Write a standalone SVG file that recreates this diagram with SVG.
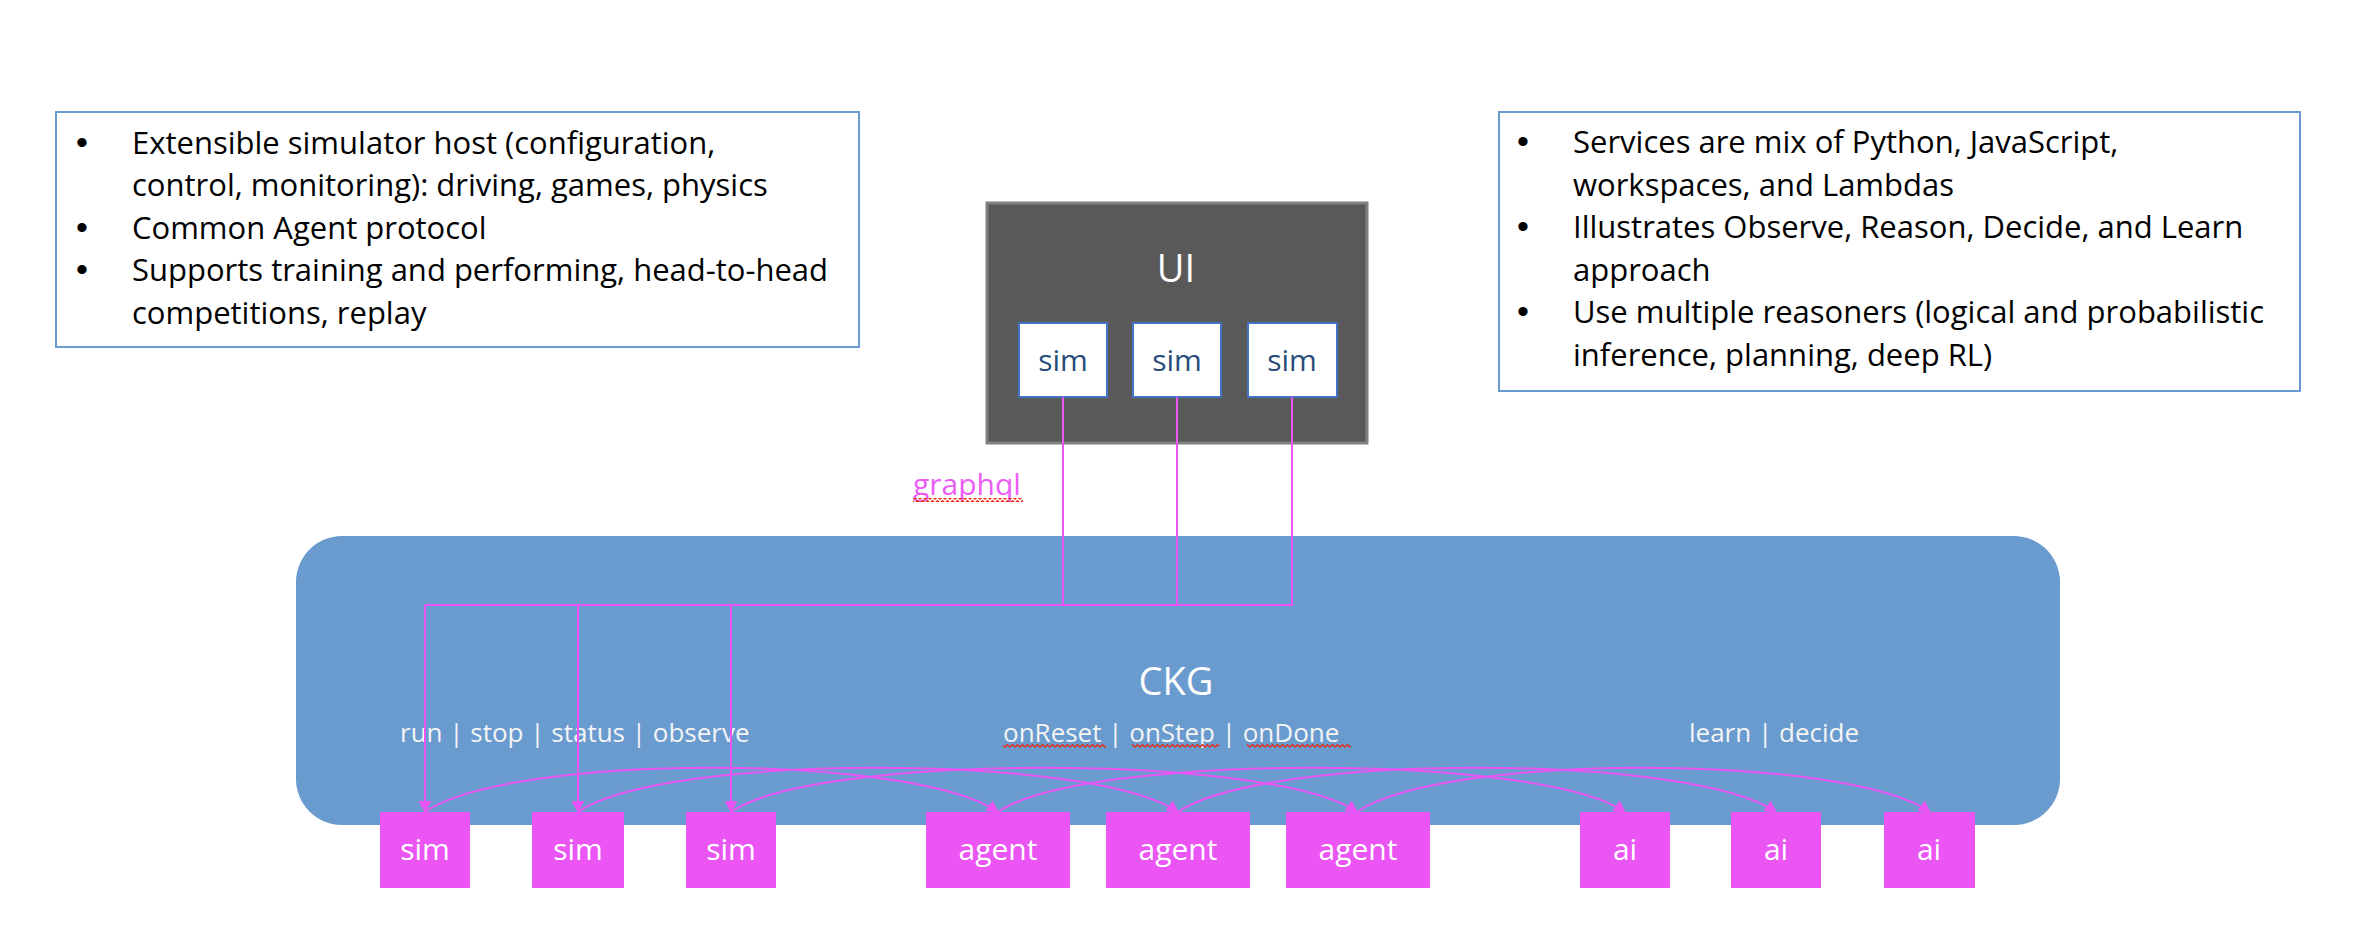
<svg xmlns="http://www.w3.org/2000/svg" width="2372" height="950" viewBox="0 0 2372 950">
<style>
  .box{fill:#ffffff;stroke:#6A9BD0;stroke-width:2}
  .bt{font-family:"Open Sans","Liberation Sans",sans-serif;font-size:31px;fill:#000000}
  .bu{font-family:"Liberation Sans",Arial,sans-serif;font-size:34px;fill:#000000}
  .conn{fill:none;stroke:#EA55F4;stroke-width:2}
  .node{fill:#EA55F4}
  .nt{font-family:"Open Sans","Liberation Sans",sans-serif;font-size:30px;fill:#ffffff;text-anchor:middle}
  .lbl{font-family:"Open Sans","Liberation Sans",sans-serif;font-size:26px;fill:#F4F4F4}
  .uisim{fill:#ffffff;stroke:#4472C4;stroke-width:2}
  .uist{font-family:"Open Sans","Liberation Sans",sans-serif;font-size:30px;fill:#294C7A;text-anchor:middle}
</style>
<defs>
  <marker id="arr" viewBox="0 0 12 13" refX="11" refY="6.5" markerWidth="12" markerHeight="13" markerUnits="userSpaceOnUse" orient="auto">
    <path d="M0,0 L12,6.5 L0,13 z" fill="#EA55F4"/>
  </marker>
  <pattern id="wavy" x="0" y="0" width="5" height="4" patternUnits="userSpaceOnUse">
    <path d="M0,3.4 L2.5,0.6 L5,3.4" fill="none" stroke="#E2301C" stroke-width="1.4"/>
  </pattern>
</defs>
<rect width="2372" height="950" fill="#ffffff"/>

<g id="left-notes">
  <rect class="box" x="56" y="112" width="803" height="235"/>
  <text class="bu" x="76" y="154">•</text>
  <text class="bt" x="132" y="154">Extensible simulator host (configuration,</text>
  <text class="bt" x="132" y="196">control, monitoring): driving, games, physics</text>
  <text class="bu" x="76" y="239">•</text>
  <text class="bt" x="132" y="239">Common Agent protocol</text>
  <text class="bu" x="76" y="281">•</text>
  <text class="bt" x="132" y="281">Supports training and performing, head-to-head</text>
  <text class="bt" x="132" y="324">competitions, replay</text>
</g>

<g id="right-notes">
  <rect class="box" x="1499" y="112" width="801" height="279"/>
  <text class="bu" x="1517" y="153">•</text>
  <text class="bt" x="1573" y="153">Services are mix of Python, JavaScript,</text>
  <text class="bt" x="1573" y="196">workspaces, and Lambdas</text>
  <text class="bu" x="1517" y="238">•</text>
  <text class="bt" x="1573" y="238">Illustrates Observe, Reason, Decide, and Learn</text>
  <text class="bt" x="1573" y="281">approach</text>
  <text class="bu" x="1517" y="323">•</text>
  <text class="bt" x="1573" y="323">Use multiple reasoners (logical and probabilistic</text>
  <text class="bt" x="1573" y="366">inference, planning, deep RL)</text>
</g>

<g id="ckg">
  <rect x="296" y="536" width="1764" height="289" rx="46" ry="46" fill="#699BCF"/>
  <text x="1176" y="695" font-family="Open Sans, Liberation Sans, sans-serif" font-size="38" fill="#ffffff" text-anchor="middle">CKG</text>
  <text class="lbl" x="400" y="742">run | stop | status | observe</text>
  <text class="lbl" x="1003" y="742">onReset | onStep | onDone</text>
  <rect x="1003" y="744" width="103" height="4" fill="url(#wavy)"/>
  <rect x="1132" y="744" width="87" height="4" fill="url(#wavy)"/>
  <rect x="1247" y="744" width="104" height="4" fill="url(#wavy)"/>
  <text class="lbl" x="1689" y="742">learn | decide</text>
</g>

<g id="ui">
  <rect x="987" y="203" width="380" height="240" fill="#595959" stroke="#808080" stroke-width="3"/>
  <text x="1176" y="282" font-family="Open Sans, Liberation Sans, sans-serif" font-size="38" fill="#ffffff" text-anchor="middle">UI</text>
  <g id="ui-sim-1"><rect class="uisim" x="1019" y="323" width="88" height="74"/><text class="uist" x="1063" y="371">sim</text></g>
  <g id="ui-sim-2"><rect class="uisim" x="1133" y="323" width="88" height="74"/><text class="uist" x="1177" y="371">sim</text></g>
  <g id="ui-sim-3"><rect class="uisim" x="1248" y="323" width="89" height="74"/><text class="uist" x="1292" y="371">sim</text></g>
</g>

<g id="graphql-label">
  <text x="913" y="495" font-family="Open Sans, Liberation Sans, sans-serif" font-size="30" fill="#EC5DF5">graphql</text>
  <rect x="913" y="498" width="110" height="4" fill="url(#wavy)"/>
</g>

<g id="connectors">
  <path class="conn" d="M1063,397 V605"/>
  <path class="conn" d="M1177,397 V605"/>
  <path class="conn" d="M1292,397 V605 H425"/>
  <path class="conn" d="M425,605 V812" marker-end="url(#arr)"/>
  <path class="conn" d="M578,605 V812" marker-end="url(#arr)"/>
  <path class="conn" d="M731,605 V812" marker-end="url(#arr)"/>
  <path class="conn" d="M425,812 C510,753 913,753 998,812" marker-end="url(#arr)"/>
  <path class="conn" d="M578,812 C663,753 1093,753 1178,812" marker-end="url(#arr)"/>
  <path class="conn" d="M731,812 C816,753 1272,753 1357,812" marker-end="url(#arr)"/>
  <path class="conn" d="M998,812 C1083,753 1540,753 1625,812" marker-end="url(#arr)"/>
  <path class="conn" d="M1178,812 C1263,753 1691,753 1776,812" marker-end="url(#arr)"/>
  <path class="conn" d="M1357,812 C1442,753 1845,753 1930,812" marker-end="url(#arr)"/>
</g>

<g id="sim-1"><rect class="node" x="380" y="812" width="90" height="76"/><text class="nt" x="425" y="860">sim</text></g>
<g id="sim-2"><rect class="node" x="532" y="812" width="92" height="76"/><text class="nt" x="578" y="860">sim</text></g>
<g id="sim-3"><rect class="node" x="686" y="812" width="90" height="76"/><text class="nt" x="731" y="860">sim</text></g>
<g id="agent-1"><rect class="node" x="926" y="812" width="144" height="76"/><text class="nt" x="998" y="860">agent</text></g>
<g id="agent-2"><rect class="node" x="1106" y="812" width="144" height="76"/><text class="nt" x="1178" y="860">agent</text></g>
<g id="agent-3"><rect class="node" x="1286" y="812" width="144" height="76"/><text class="nt" x="1358" y="860">agent</text></g>
<g id="ai-1"><rect class="node" x="1580" y="812" width="90" height="76"/><text class="nt" x="1625" y="860">ai</text></g>
<g id="ai-2"><rect class="node" x="1731" y="812" width="90" height="76"/><text class="nt" x="1776" y="860">ai</text></g>
<g id="ai-3"><rect class="node" x="1884" y="812" width="91" height="76"/><text class="nt" x="1929" y="860">ai</text></g>
</svg>
